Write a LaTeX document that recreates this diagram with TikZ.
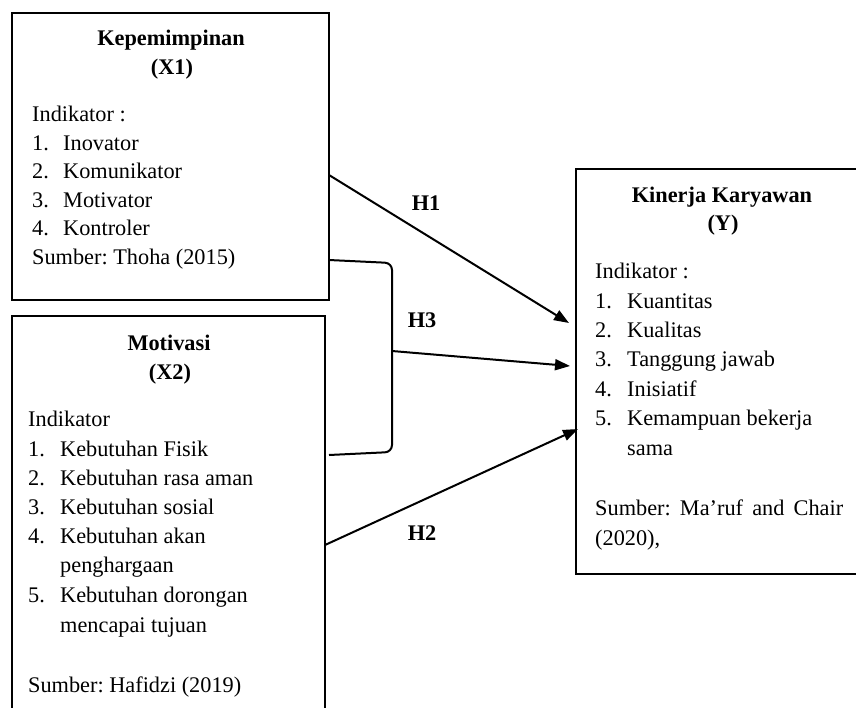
\documentclass[tikz,border=0pt]{standalone}
\usepackage{fontspec}
\setmainfont{Liberation Serif}
\usetikzlibrary{arrows.meta}
\frenchspacing
\begin{document}
\begin{tikzpicture}[x=1pt,y=-1pt,
  box/.style={draw,line width=2.2pt,inner sep=0pt,outer sep=0pt,anchor=north west},
  txt/.style={anchor=base west,inner sep=0pt,font=\fontsize{22.3}{26}\selectfont},
  ttl/.style={anchor=base,inner sep=0pt,font=\fontsize{22.3}{26}\selectfont\bfseries},
  conn/.style={line width=2pt,-{Triangle[length=15pt,width=11pt]}},
  lbl/.style={anchor=base,inner sep=0pt,font=\fontsize{22.3}{26}\selectfont\bfseries}]
\useasboundingbox (0,0) rectangle (856,707);
\clip (0,0) rectangle (856,707);
% boxes
\node[box,minimum width=317pt,minimum height=287pt] (x1) at (12,13) {};
\node[box,minimum width=313pt,minimum height=404pt] (x2) at (12,316) {};
\node[box,minimum width=300pt,minimum height=405pt] (y) at (576,169) {};
% box X1 text
\node[ttl] (x1t1) at (171,45) {Kepemimpinan};
\node[ttl] (x1t2) at (172,74) {(X1)};
\node[txt] (x1i) at (32,121) {Indikator :};
\node[txt] (x1a) at (32,150) {\makebox[31pt][l]{1.}Inovator};
\node[txt] (x1b) at (32,178.5) {\makebox[31pt][l]{2.}Komunikator};
\node[txt] (x1c) at (32,207) {\makebox[31pt][l]{3.}Motivator};
\node[txt] (x1d) at (32,235.5) {\makebox[31pt][l]{4.}Kontroler};
\node[txt] (x1s) at (32,264) {Sumber: Thoha (2015)};
% box X2 text
\node[ttl] (x2t1) at (169,350) {Motivasi};
\node[ttl] (x2t2) at (170,379) {(X2)};
\node[txt] (x2i) at (28,426) {Indikator};
\node[txt] (x2a) at (28,456) {\makebox[32pt][l]{1.}Kebutuhan Fisik};
\node[txt] (x2b) at (28,485) {\makebox[32pt][l]{2.}Kebutuhan rasa aman};
\node[txt] (x2c) at (28,514) {\makebox[32pt][l]{3.}Kebutuhan sosial};
\node[txt] (x2d) at (28,543) {\makebox[32pt][l]{4.}Kebutuhan akan};
\node[txt] (x2d2) at (60,572) {penghargaan};
\node[txt] (x2e) at (28,602) {\makebox[32pt][l]{5.}Kebutuhan dorongan};
\node[txt] (x2e2) at (60,632) {mencapai tujuan};
\node[txt] (x2s) at (28,692) {Sumber: Hafidzi (2019)};
% box Y text
\node[ttl] (yt1) at (722,202) {Kinerja Karyawan};
\node[ttl] (yt2) at (723,230) {(Y)};
\node[txt] (yi) at (595,278) {Indikator :};
\node[txt] (ya) at (595,308) {\makebox[32pt][l]{1.}Kuantitas};
\node[txt] (yb) at (595,337) {\makebox[32pt][l]{2.}Kualitas};
\node[txt] (yc) at (595,366.5) {\makebox[32pt][l]{3.}Tanggung jawab};
\node[txt] (yd) at (595,396) {\makebox[32pt][l]{4.}Inisiatif};
\node[txt] (ye) at (595,425) {\makebox[32pt][l]{5.}Kemampuan bekerja};
\node[txt] (ye2) at (627,455) {sama};
\node[txt] (ys) at (595,515) {\makebox[248pt][s]{Sumber: Ma’ruf and Chair}};
\node[txt] (ys2) at (595,545) {(2020),};
% connector end points
\coordinate (h1s) at (329,175);
\coordinate (h1t) at (569,323);
\coordinate (brk) at (392,351);
\coordinate (h3t) at (570,366);
\coordinate (h2s) at (325,545);
\coordinate (h2t) at (578,429);
% bracket
\draw[line width=2pt,rounded corners=7pt] (329,260) -- (392,263) -- (392,452) -- (329,455);
% arrows
\draw[conn] (h1s) -- (h1t);
\draw[conn] (brk) -- (h3t);
\draw[conn] (h2s) -- (h2t);
% labels
\node[lbl] (lh1) at (426,210) {H1};
\node[lbl] (lh3) at (422,327) {H3};
\node[lbl] (lh2) at (422,540) {H2};
\end{tikzpicture}
\end{document}
